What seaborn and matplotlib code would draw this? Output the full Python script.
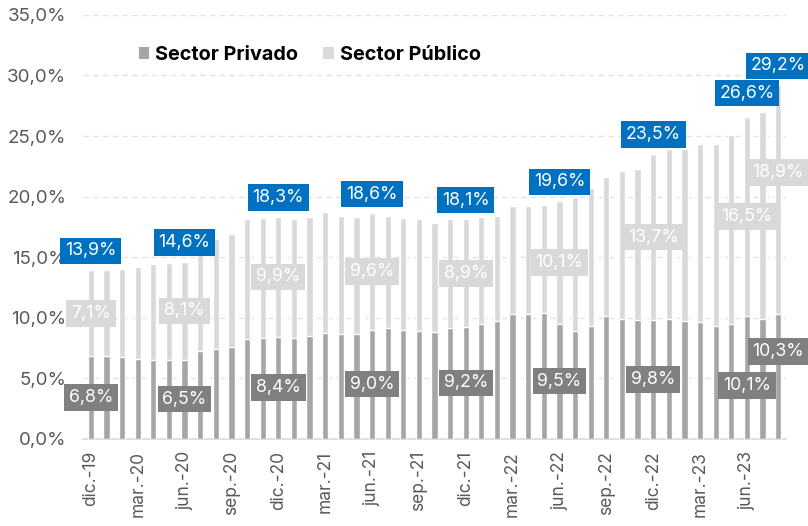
import matplotlib
matplotlib.use("Agg")
import matplotlib.pyplot as plt
from matplotlib.patches import Patch
import seaborn as sns
import pandas as pd

# Monthly series, Dec-2019 .. Aug-2023 (percent)
months = [
    "dic.-19", "ene.-20", "feb.-20", "mar.-20", "abr.-20", "may.-20", "jun.-20",
    "jul.-20", "ago.-20", "sep.-20", "oct.-20", "nov.-20", "dic.-20", "ene.-21",
    "feb.-21", "mar.-21", "abr.-21", "may.-21", "jun.-21", "jul.-21", "ago.-21",
    "sep.-21", "oct.-21", "nov.-21", "dic.-21", "ene.-22", "feb.-22", "mar.-22",
    "abr.-22", "may.-22", "jun.-22", "jul.-22", "ago.-22", "sep.-22", "oct.-22",
    "nov.-22", "dic.-22", "ene.-23", "feb.-23", "mar.-23", "abr.-23", "may.-23",
    "jun.-23", "jul.-23", "ago.-23",
]
privado = [
    6.8, 6.8, 6.7, 6.6, 6.5, 6.5, 6.5, 7.2, 7.4, 7.6, 8.2, 8.3, 8.4, 8.3, 8.5,
    8.7, 8.6, 8.6, 9.0, 9.1, 9.0, 8.9, 8.8, 9.1, 9.2, 9.5, 9.7, 10.3, 10.3, 10.4,
    9.5, 8.9, 9.3, 10.1, 9.9, 9.8, 9.8, 9.9, 9.7, 9.6, 9.3, 9.5, 10.1, 9.9, 10.3,
]
publico = [
    7.1, 7.1, 7.3, 7.6, 7.9, 8.0, 8.1, 8.3, 9.1, 9.3, 9.9, 9.9, 9.9, 9.8, 9.8,
    10.0, 9.8, 9.7, 9.6, 9.3, 9.2, 9.2, 9.0, 9.0, 8.9, 8.8, 8.7, 8.9, 8.9, 8.9,
    10.1, 11.1, 11.4, 11.5, 12.2, 12.5, 13.7, 14.0, 14.2, 14.7, 15.0, 15.6, 16.5, 17.1, 18.9,
]
series_names = ["Sector Privado", "Sector Público"]
yticks = [0, 5, 10, 15, 20, 25, 30, 35]

# Months that carry value labels
labeled = [0, 6, 12, 18, 24, 30, 36, 42, 44]

# Vertical nudges (data units) so neighbouring boxes do not collide
nudge_total = {42: 0.35}
nudge_priv = {42: -0.67, 44: 2.05}
nudge_pub = {44: 2.25}

C_PRIV = "#A6A6A6"
C_PUB = "#D9D9D9"
C_PRIV_BOX = "#808080"
C_TOTAL_BOX = "#0070C0"
C_TEXT = "#595959"

df = pd.DataFrame({"mes": months, "privado": privado, "publico": publico})
df["total"] = [round(a + b, 1) for a, b in zip(privado, publico)]

sns.set_theme(style="white")
plt.rcParams["font.family"] = ["Inter", "DejaVu Sans"]

fig = plt.figure(figsize=(8.08, 5.26), dpi=100)
ax = fig.add_axes([0.1027, 0.1663, 0.8701, 0.8052])

# Stacked bars: full height in light grey, private share drawn over it
sns.barplot(data=df, x="mes", y="total", color=C_PUB, width=0.4,
            saturation=1, ax=ax, zorder=2)
sns.barplot(data=df, x="mes", y="privado", color=C_PRIV, width=0.4,
            saturation=1, ax=ax, zorder=3)

ax.set_xlim(-0.5, len(months) - 0.5)
ax.set_ylim(0, 35)
ax.set_yticks(yticks)
ax.set_yticklabels([f"{v:.1f}%".replace(".", ",") for v in yticks],
                   color=C_TEXT, fontsize=13.5)
tick_idx = list(range(0, len(months), 3))
ax.set_xticks(tick_idx)
ax.set_xticklabels([months[i] for i in tick_idx], rotation=90,
                   color=C_TEXT, fontsize=12.5)
ax.tick_params(axis="both", length=0)
ax.tick_params(axis="y", pad=12)
ax.tick_params(axis="x", pad=9)
ax.set_xlabel("")
ax.set_ylabel("")

ax.yaxis.grid(True, color="#E3E3E3", linestyle=(0, (4, 3)), linewidth=1)
ax.xaxis.grid(False)
ax.set_axisbelow(True)
for side in ["top", "right", "left"]:
    ax.spines[side].set_visible(False)
ax.spines["bottom"].set_color(C_PUB)
ax.spines["bottom"].set_linewidth(1.2)


def fmt(v):
    return f"{v:.1f}%".replace(".", ",")


def boxed(x, y, text, face):
    ax.text(x, y, text, ha="center", va="center", color="white",
            fontsize=12.8, zorder=6,
            bbox=dict(boxstyle="square,pad=0.27", facecolor=face,
                      edgecolor="none"))


for i in labeled:
    p = df.loc[i, "privado"]
    q = df.loc[i, "publico"]
    t = df.loc[i, "total"]
    boxed(i, p / 2 + nudge_priv.get(i, 0), fmt(p), C_PRIV_BOX)
    boxed(i, p + q / 2 + nudge_pub.get(i, 0), fmt(q), C_PUB)
    boxed(i, t + 1.6 + nudge_total.get(i, 0), fmt(t), C_TOTAL_BOX)

handles = [Patch(facecolor=C_PRIV, edgecolor="none"),
           Patch(facecolor=C_PUB, edgecolor="none")]
leg = ax.legend(handles, series_names, loc="center left",
                bbox_to_anchor=(0.079, 0.906), ncol=2, frameon=False,
                handlelength=0.55, handleheight=0.55, handletextpad=0.3,
                columnspacing=1.25, borderpad=0, borderaxespad=0,
                prop={"weight": "bold", "size": 14.3})
for txt in leg.get_texts():
    txt.set_color("black")

fig.savefig("out.png", dpi=100, facecolor="white")
